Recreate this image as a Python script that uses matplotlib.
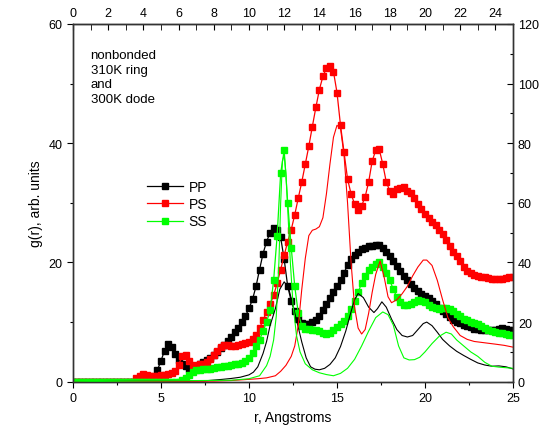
import numpy as np
import matplotlib as mpl
mpl.use("Agg")
import matplotlib.pyplot as plt
from matplotlib.ticker import MultipleLocator

mpl.rc('font', **{'family': 'sans-serif', 'sans-serif': ['Liberation Sans', 'DejaVu Sans']})
mpl.rcParams['font.size'] = 9

# --- marker series (left axis, g(r) arb. units) ---
r_pp = [0.0, 0.2, 0.4, 0.6, 0.8, 1.0, 1.2, 1.4, 1.6, 1.8, 2.0, 2.2, 2.4, 2.6, 2.8, 3.0,
        3.2, 3.4, 3.6, 3.8, 4.0, 4.2, 4.4, 4.6, 4.8, 5.0, 5.2, 5.4, 5.6, 5.8, 6.0, 6.2,
        6.4, 6.6, 6.8, 7.0, 7.2, 7.4, 7.6, 7.8, 8.0, 8.2, 8.4, 8.6, 8.8, 9.0, 9.2, 9.4,
        9.6, 9.8, 10.0, 10.2, 10.4, 10.6, 10.8, 11.0, 11.2, 11.4, 11.6, 11.8, 12.0, 12.2,
        12.4, 12.6, 12.8, 13.0, 13.2, 13.4, 13.6, 13.8, 14.0, 14.2, 14.4, 14.6, 14.8, 15.0,
        15.2, 15.4, 15.6, 15.8, 16.0, 16.2, 16.4, 16.6, 16.8, 17.0, 17.2, 17.4, 17.6, 17.8,
        18.0, 18.2, 18.4, 18.6, 18.8, 19.0, 19.2, 19.4, 19.6, 19.8, 20.0, 20.2, 20.4, 20.6,
        20.8, 21.0, 21.2, 21.4, 21.6, 21.8, 22.0, 22.2, 22.4, 22.6, 22.8, 23.0, 23.2, 23.4,
        23.6, 23.8, 24.0, 24.2, 24.4, 24.6, 24.8, 25.0]
g_pp = [0, 0, 0, 0, 0, 0, 0, 0, 0, 0, 0, 0, 0, 0, 0, 0,
        0, 0, 0, 0, 0, 0, 0.2, 0.8, 2.0, 3.5, 5.2, 6.3, 5.8, 4.6, 3.6, 3.0,
        2.6, 2.2, 2.3, 2.6, 3.0, 3.3, 3.6, 4.0, 4.5, 5.0, 5.6, 6.2, 6.8, 7.5, 8.3, 9.0,
        10.0, 11.0, 12.3, 13.8, 16.0, 18.8, 21.5, 23.5, 25.0, 25.8, 25.5, 24.2, 20.5, 16.0,
        13.5, 11.8, 10.5, 9.8, 9.6, 9.7, 10.0, 10.3, 11.0, 12.0, 13.0, 14.0, 15.0, 16.0,
        17.0, 18.3, 19.5, 20.5, 21.2, 21.8, 22.3, 22.5, 22.7, 22.8, 23.0, 22.9, 22.5, 21.8,
        21.0, 20.2, 19.4, 18.6, 17.8, 17.1, 16.4, 15.8, 15.2, 14.7, 14.3, 14.0, 13.6, 13.0,
        12.4, 11.8, 11.3, 10.8, 10.4, 10.0, 9.8, 9.5, 9.3, 9.1, 8.9, 8.8, 8.7, 8.6,
        8.6, 8.6, 8.7, 8.9, 9.0, 8.9, 8.7, 8.6]

r_ps = r_pp
g_ps = [0, 0, 0, 0, 0, 0, 0, 0, 0, 0, 0, 0, 0, 0, 0, 0,
        0, 0, 0.6, 1.0, 1.3, 1.2, 1.0, 0.9, 1.0, 1.1, 1.2, 1.3, 1.5, 1.8, 2.8, 4.3,
        4.5, 3.5, 2.8, 2.7, 2.9, 3.0, 3.3, 3.8, 4.5, 5.2, 5.8, 6.1, 6.2, 6.0, 6.0, 6.1,
        6.3, 6.5, 6.7, 7.2, 7.9, 9.0, 10.3, 11.7, 13.0, 14.5, 16.5, 18.8, 21.2, 23.5,
        25.5, 28.0, 30.8, 33.5, 36.5, 39.5, 42.8, 46.0, 49.0, 51.2, 52.6, 53.0, 52.0, 48.5,
        43.0, 38.5, 34.0, 31.5, 29.8, 28.8, 29.5, 31.0, 33.5, 37.0, 38.8, 39.0, 36.5, 33.5,
        32.0, 31.5, 32.3, 32.5, 32.6, 32.0, 31.6, 30.8, 29.8, 29.0, 28.2, 27.5, 26.8, 26.2,
        25.5, 24.8, 23.8, 22.8, 21.8, 21.0, 20.2, 19.3, 18.6, 18.2, 17.9, 17.7, 17.6, 17.5,
        17.4, 17.3, 17.2, 17.2, 17.3, 17.4, 17.5, 17.6]

r_ss = r_pp
g_ss = [0, 0, 0, 0, 0, 0, 0, 0, 0, 0, 0, 0, 0, 0, 0, 0,
        0, 0, 0, 0, 0, 0, 0, 0, 0, 0, 0, 0, 0, 0, 0, 0.3,
        0.7, 1.2, 1.6, 1.9, 2.0, 2.1, 2.1, 2.2, 2.3, 2.4, 2.5, 2.6, 2.7, 2.8, 2.9, 3.0,
        3.2, 3.5, 4.0, 4.8, 6.0, 7.0, 8.5, 10.0, 12.0, 17.0, 24.5, 35.0, 38.8, 30.0,
        22.5, 16.0, 11.5, 9.4, 8.9, 8.8, 8.7, 8.6, 8.5, 8.2, 8.0, 8.2, 8.7, 9.2,
        9.6, 10.1, 11.0, 12.2, 13.5, 15.0, 16.5, 17.7, 18.7, 19.3, 19.8, 20.0, 19.2, 18.2,
        17.0, 15.5, 14.2, 13.3, 12.9, 12.8, 13.0, 13.4, 13.7, 13.6, 13.3, 12.9, 12.5, 12.3,
        12.2, 12.3, 12.3, 12.2, 11.8, 11.4, 11.0, 10.6, 10.3, 10.0, 9.8, 9.6, 9.3, 9.0,
        8.7, 8.5, 8.3, 8.2, 8.1, 8.0, 7.9, 7.8]

# --- thin line series (right axis) ---
r_pp_line = [0, 7.5, 8.5, 9.0, 9.5, 10.0, 10.25, 10.5, 10.8, 11.0, 11.2, 11.5, 11.75, 12.0,
             12.25, 12.5, 12.75, 13.0, 13.25, 13.5, 13.75, 14.0, 14.3, 14.6, 14.9, 15.2,
             15.5, 15.8, 16.0, 16.2, 16.5, 16.8, 17.1, 17.3, 17.55, 17.8, 18.1, 18.4, 18.7,
             19.0, 19.3, 19.6, 19.9, 20.1, 20.4, 20.7, 21.0, 21.4, 21.8, 22.2, 22.6, 23.0,
             23.4, 23.8, 24.2, 24.6, 25.0]
g_pp_line = [0, 0.3, 0.8, 1.1, 1.5, 2.3, 3.2, 5.0, 9.5, 13.5, 18.9, 24.5, 31.0, 33.5,
             31.5, 25.6, 19.5, 13.3, 8.0, 5.0, 4.2, 4.0, 4.5, 5.8, 8.0, 11.8,
             17.0, 23.5, 27.5, 29.6, 28.2, 25.0, 23.2, 24.5, 26.8, 25.0, 21.0, 17.5, 15.5,
             15.0, 15.5, 17.5, 19.5, 20.0, 18.8, 16.6, 14.2, 12.0, 10.2, 8.8, 7.5, 6.3,
             5.6, 5.2, 5.3, 5.0, 4.3]

r_ps_line = [0, 8.0, 9.0, 10.0, 10.5, 11.0, 11.5, 11.8, 12.1, 12.4, 12.6, 12.8, 13.0, 13.2,
             13.4, 13.6, 13.8, 14.0, 14.2, 14.4, 14.6, 14.8, 15.0, 15.2, 15.4, 15.6, 15.8,
             16.0, 16.2, 16.4, 16.6, 16.8, 17.0, 17.2, 17.45, 17.7, 17.9, 18.1, 18.4, 18.7,
             19.0, 19.3, 19.6, 19.9, 20.1, 20.4, 20.7, 21.0, 21.3, 21.6, 22.0, 22.4, 22.8,
             23.2, 23.6, 24.0, 24.5, 25.0]
g_ps_line = [0, 0.2, 0.4, 0.8, 1.0, 1.3, 2.0, 3.5, 5.5, 8.5, 12.0, 18.9, 31.0, 41.4,
             49.0, 50.8, 51.2, 52.0, 55.0, 63.0, 73.0, 82.0, 86.0, 85.0, 76.0, 60.0, 40.0,
             25.0, 18.0, 16.0, 17.5, 23.0, 30.0, 36.0, 40.5, 34.5, 28.5, 26.5, 27.5, 29.5,
             32.0, 35.5, 38.5, 40.8, 40.8, 39.0, 34.0, 27.5, 21.5, 18.5, 15.5, 14.2, 13.5,
             13.2, 12.9, 12.6, 12.2, 11.6]

r_ss_line = [0, 9.0, 10.0, 10.6, 11.0, 11.2, 11.4, 11.55, 11.7, 11.8, 11.9, 12.0, 12.1,
             12.2, 12.35, 12.5, 12.7, 12.9, 13.2, 13.6, 14.0, 14.4, 14.8, 15.2, 15.6, 16.0,
             16.4, 16.8, 17.2, 17.6, 17.9, 18.2, 18.5, 18.8, 19.1, 19.4, 19.7, 20.0, 20.4,
             20.8, 21.2, 21.5, 21.8, 22.2, 22.6, 23.0, 23.4, 23.8, 24.2, 24.6, 25.0]
g_ss_line = [0, 0.5, 1.0, 2.0, 5.4, 8.5, 14.0, 22.0, 40.0, 60.0, 74.0, 76.0, 70.0,
             58.0, 40.0, 26.0, 15.5, 10.0, 6.0, 4.0, 3.0, 2.4, 2.0, 2.8, 4.5, 7.5,
             12.0, 17.0, 21.5, 23.4, 22.5, 19.0, 12.0, 8.0, 7.3, 7.4, 8.2, 10.0, 12.8,
             15.2, 16.6, 16.0, 14.0, 12.0, 10.0, 8.5, 6.5, 5.2, 4.9, 4.7, 4.5]

colours = {"PP": "#000000", "PS": "#FF0000", "SS": "#00FF00"}

fig = plt.figure(figsize=(5.5, 4.39), dpi=100)
ax = fig.add_axes([0.1327, 0.1282, 0.80, 0.815])
ax2 = ax.twinx()

for name, r, g in [("PP", r_pp, g_pp), ("PS", r_ps, g_ps), ("SS", r_ss, g_ss)]:
    ax.plot(r, g, color=colours[name], marker='s', markersize=3.8, lw=0.9, label=name)

for name, r, g in [("PP", r_pp_line, g_pp_line), ("PS", r_ps_line, g_ps_line),
                   ("SS", r_ss_line, g_ss_line)]:
    ax2.plot(r, g, color=colours[name], lw=0.8)

ax.set_xlim(0, 25)
ax.set_ylim(0, 60)
ax2.set_ylim(0, 120)

ax.xaxis.set_major_locator(MultipleLocator(5))
ax.xaxis.set_minor_locator(MultipleLocator(2.5))
ax.yaxis.set_major_locator(MultipleLocator(20))
ax.yaxis.set_minor_locator(MultipleLocator(10))
ax2.yaxis.set_major_locator(MultipleLocator(20))
ax2.yaxis.set_minor_locator(MultipleLocator(10))

top = ax.secondary_xaxis('top')
top.xaxis.set_major_locator(MultipleLocator(2))
top.xaxis.set_minor_locator(MultipleLocator(1))
top.tick_params(which='both', direction='in', length=4)

ax.tick_params(which='major', direction='out', length=4, width=0.8)
ax.tick_params(which='minor', direction='out', length=2.5, width=0.8)
ax2.tick_params(which='major', direction='in', length=4, width=0.8)
ax2.tick_params(which='minor', direction='in', length=2.5, width=0.8)

for a in (ax, ax2):
    for s in a.spines.values():
        s.set_linewidth(1.0)
        s.set_color('#333333')

ax.set_xlabel("r, Angstroms", fontsize=10)
ax.set_ylabel("g(r), arb. units", fontsize=10)

ax.text(0.04, 0.93, "nonbonded\n310K ring\nand\n300K dode", transform=ax.transAxes,
        fontsize=9.5, va='top', ha='left', linespacing=1.3)

ax.legend(loc='upper left', bbox_to_anchor=(0.14, 0.60), frameon=False, numpoints=1,
          handlelength=2.6, fontsize=10, labelspacing=0.25, handletextpad=0.4)

fig.savefig("out.png", dpi=100)
